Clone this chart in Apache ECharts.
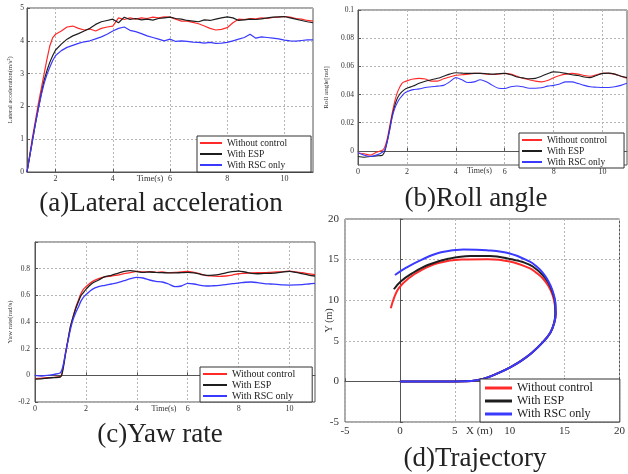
<!DOCTYPE html>
<html>
<head>
<meta charset="utf-8">
<script src="https://cdn.jsdelivr.net/npm/echarts@6/dist/echarts.min.js"></script>
<style>
  html, body { margin: 0; padding: 0; background: #fff; }
  #main { width: 628px; height: 474px; }
</style>
</head>
<body>
<div id="main"></div>
<script>
/* four vehicle-response panels: lateral accel, roll, yaw rate, trajectory */

const NAMES = ['Without control', 'With ESP', 'With RSC only'];
const COLORS = ['#ff2a2a', '#1e1e1e', '#3a3aff'];
const SERIF = '"Liberation Serif", "Times New Roman", serif';

// (a) lateral acceleration, time axis starts at 1 s
const TIME_A = [1, 1.1, 1.2, 1.3, 1.4, 1.5, 1.6, 1.7, 1.8, 1.9, 2,
  2.2, 2.4, 2.6, 2.8, 3, 3.2, 3.4, 3.6, 3.8, 4,
  4.2, 4.4, 4.6, 4.8, 5, 5.2, 5.4, 5.6, 5.8, 6,
  6.2, 6.4, 6.6, 6.8, 7, 7.2, 7.4, 7.6, 7.8, 8,
  8.2, 8.4, 8.6, 8.8, 9, 9.2, 9.4, 9.6, 9.8, 10,
  10.2, 10.4, 10.6, 10.8, 11];
const ACC_RED = [0, 0.55, 1.1, 1.6, 2.1, 2.55, 3.0, 3.45, 3.85, 4.1, 4.2,
  4.3, 4.42, 4.45, 4.38, 4.33, 4.36, 4.3, 4.38, 4.42, 4.45,
  4.7, 4.65, 4.7, 4.66, 4.7, 4.68, 4.72, 4.7, 4.73, 4.72,
  4.66, 4.6, 4.6, 4.56, 4.52, 4.45, 4.38, 4.33, 4.35, 4.4,
  4.55, 4.66, 4.65, 4.68, 4.67, 4.7, 4.68, 4.71, 4.72, 4.74,
  4.72, 4.68, 4.66, 4.62, 4.6];
const ACC_ESP = [0, 0.5, 1.0, 1.5, 1.95, 2.4, 2.8, 3.1, 3.35, 3.55, 3.72,
  3.9, 4.05, 4.15, 4.22, 4.3, 4.38, 4.5, 4.58, 4.62, 4.66,
  4.55, 4.72, 4.65, 4.68, 4.64, 4.66, 4.63, 4.68, 4.7, 4.72,
  4.68, 4.66, 4.62, 4.6, 4.58, 4.64, 4.62, 4.66, 4.7, 4.73,
  4.7, 4.62, 4.64, 4.66, 4.65, 4.67, 4.7, 4.72, 4.73, 4.74,
  4.7, 4.66, 4.62, 4.58, 4.55];
const ACC_RSC = [0, 0.5, 1.0, 1.5, 1.95, 2.35, 2.7, 2.98, 3.2, 3.4, 3.55,
  3.7, 3.8, 3.86, 3.92, 3.97, 4.0, 4.06, 4.12, 4.2, 4.3,
  4.38, 4.42, 4.32, 4.28, 4.22, 4.15, 4.1, 4.05, 4.0, 4.05,
  3.98, 4.0, 3.98, 3.96, 3.95, 3.93, 3.95, 3.92, 3.93, 3.95,
  4.0, 4.05, 4.1, 4.2, 4.08, 4.12, 4.1, 4.08, 4.06, 4.02,
  4.0, 3.99, 4.01, 4.03, 4.03];

// (b) roll angle and (c) yaw rate share one time base
const TIME_B = [0, 0.25, 0.5, 0.75, 1,
  1.1, 1.2, 1.3, 1.4, 1.5, 1.6, 1.7, 1.8, 1.9, 2,
  2.25, 2.5, 2.75, 3, 3.25, 3.5, 3.75, 4,
  4.25, 4.5, 4.75, 5, 5.25, 5.5, 5.75, 6,
  6.25, 6.5, 6.75, 7, 7.25, 7.5, 7.75, 8,
  8.25, 8.5, 8.75, 9, 9.25, 9.5, 9.75, 10,
  10.25, 10.5, 10.75, 11];
const ROLL_RED = [-0.0015, -0.002, -0.003, -0.001, 0.0005,
  0.003, 0.009, 0.018, 0.027, 0.035, 0.041, 0.045, 0.048, 0.049, 0.0497,
  0.051, 0.0515, 0.051, 0.0495, 0.0495, 0.0512, 0.0525, 0.0537,
  0.054, 0.0545, 0.055, 0.055, 0.0545, 0.0542, 0.0545, 0.055,
  0.0545, 0.053, 0.0515, 0.0505, 0.0495, 0.049, 0.05, 0.052,
  0.0535, 0.0545, 0.055, 0.0545, 0.0535, 0.053, 0.054, 0.055,
  0.055, 0.0545, 0.053, 0.0515];
const ROLL_ESP = [-0.004, -0.0045, -0.004, -0.0035, -0.003,
  0.0, 0.007, 0.016, 0.025, 0.032, 0.037, 0.04, 0.042, 0.0435, 0.0445,
  0.046, 0.048, 0.0495, 0.0505, 0.0515, 0.053, 0.0545, 0.0555,
  0.0552, 0.055, 0.055, 0.055, 0.0548, 0.0545, 0.0548, 0.055,
  0.054, 0.0525, 0.0518, 0.0512, 0.0515, 0.053, 0.0548, 0.0561,
  0.0558, 0.055, 0.054, 0.0535, 0.0525, 0.052, 0.0535, 0.055,
  0.0552, 0.0545, 0.053, 0.052];
const ROLL_RSC = [-0.0013, -0.003, -0.004, -0.003, -0.001,
  0.001, 0.007, 0.015, 0.024, 0.03, 0.034, 0.037, 0.039, 0.041, 0.042,
  0.0435, 0.044, 0.045, 0.0455, 0.046, 0.0465, 0.049, 0.052,
  0.0505, 0.0485, 0.049, 0.0505, 0.049, 0.0465, 0.0445, 0.0443,
  0.0455, 0.0461, 0.0455, 0.0445, 0.0445, 0.0448, 0.046, 0.0465,
  0.0475, 0.049, 0.049, 0.0478, 0.0465, 0.0455, 0.0452, 0.045,
  0.045, 0.0455, 0.0465, 0.048];
const YAW_RED = [-0.025, -0.022, -0.018, -0.015, -0.01,
  0.06, 0.17, 0.27, 0.37, 0.44, 0.51, 0.56, 0.61, 0.644, 0.665,
  0.703, 0.725, 0.738, 0.745, 0.752, 0.762, 0.77, 0.78,
  0.775, 0.778, 0.772, 0.775, 0.77, 0.772, 0.776, 0.78,
  0.772, 0.76, 0.748, 0.745, 0.742, 0.745, 0.752, 0.762,
  0.765, 0.768, 0.77, 0.77, 0.772, 0.775, 0.778, 0.782,
  0.775, 0.77, 0.762, 0.755];
const YAW_ESP = [-0.028, -0.027, -0.02, -0.017, -0.012,
  0.045, 0.16, 0.27, 0.37, 0.44, 0.5, 0.55, 0.595, 0.62, 0.645,
  0.69, 0.715, 0.74, 0.75, 0.765, 0.78, 0.786, 0.778,
  0.772, 0.775, 0.772, 0.77, 0.768, 0.768, 0.77, 0.772,
  0.768, 0.758, 0.75, 0.752, 0.758, 0.768, 0.778, 0.782,
  0.775, 0.765, 0.762, 0.764, 0.765, 0.768, 0.776, 0.78,
  0.772, 0.762, 0.752, 0.745];
const YAW_RSC = [0.0, -0.005, 0.0, 0.008, 0.02,
  0.07, 0.17, 0.26, 0.35, 0.42, 0.47, 0.51, 0.555, 0.585, 0.605,
  0.645, 0.665, 0.675, 0.685, 0.695, 0.71, 0.725, 0.735,
  0.73, 0.715, 0.705, 0.7, 0.685, 0.665, 0.67, 0.69,
  0.685, 0.675, 0.67, 0.672, 0.675, 0.68, 0.688, 0.692,
  0.698, 0.7, 0.695, 0.688, 0.685, 0.682, 0.678, 0.677,
  0.678, 0.68, 0.685, 0.69];

// (d) trajectory, X / Y in metres
const TRAJ_RED_X = [0, 2, 4, 5, 6, 7, 8, 9, 10, 11, 12, 13, 13.7, 14.05,
  14.2, 14.1, 13.9, 13.5, 13.0, 12.4, 11.8, 10, 8, 5.6, 3.5, 2.0, 0.8, -0.1, -0.54, -0.83];
const TRAJ_RED_Y = [0, 0, 0, 0, 0.02, 0.15, 0.5, 1.05, 1.7, 2.5, 3.5, 4.8, 6.0, 7.2,
  8.3, 9.5, 10.65, 11.8, 12.7, 13.4, 13.95, 14.77, 15.05, 15.0, 14.57, 13.74, 12.7, 11.48, 10.25, 9.0];
const TRAJ_ESP_X = [0, 2, 4, 5, 6, 7, 8, 9, 10, 11, 12, 13, 13.7, 14.05,
  14.15, 14.15, 13.9, 13.5, 13.0, 12.1, 11.2, 10.3, 8.2, 6.4, 4.4, 2.6, 1.1, 0.07, -0.55];
const TRAJ_ESP_Y = [0, 0, 0, 0, 0.02, 0.15, 0.5, 1.05, 1.7, 2.5, 3.5, 4.8, 6.0, 7.2,
  8.3, 9.5, 11.0, 12.2, 13.1, 14.15, 14.7, 15.0, 15.45, 15.45, 15.1, 14.36, 13.3, 12.3, 11.35];
const TRAJ_RSC_X = [0, 2, 4, 5, 6, 7, 8, 9, 10, 11, 12, 13, 13.7, 14.05,
  14.2, 14.15, 13.9, 13.5, 13.0, 12.4, 11.8, 10, 7.9, 5.8, 3.75, 2.0, 0.5, -0.45];
const TRAJ_RSC_Y = [0, 0, 0, 0, 0.02, 0.15, 0.5, 1.05, 1.7, 2.5, 3.5, 4.8, 6.0, 7.2,
  8.4, 9.8, 11.2, 12.4, 13.4, 14.2, 14.77, 15.75, 16.15, 16.25, 15.9, 15.0, 13.95, 13.1];

const zip = (xs, ys) => xs.map((x, i) => [x, ys[i]]);

const chart = echarts.init(document.getElementById('main'));

const GRIDS = [
  { left: 27, top: 8, width: 286, height: 164 },
  { left: 358, top: 10, width: 269, height: 155 },
  { left: 35, top: 242, width: 280, height: 160 },
  { left: 345, top: 219, width: 280, height: 203 }
];

function axis(gi, fs, extra) {
  return Object.assign({
    gridIndex: gi,
    type: 'value',
    axisLine: { show: true, lineStyle: { color: '#555' } },
    axisTick: { show: true, inside: true, length: 3, lineStyle: { color: '#555' } },
    axisLabel: { fontFamily: SERIF, fontSize: fs, color: '#333', margin: 3 },
    splitLine: { show: true, lineStyle: { color: '#b5b5b5', type: [2, 2] } },
    nameLocation: 'middle',
    nameMoveOverlap: false,
    nameTextStyle: { fontFamily: SERIF, fontSize: fs, color: '#333' }
  }, extra);
}

function lines(gi, data, width, smooth) {
  return data.map((d, k) => ({
    name: NAMES[k], type: 'line', xAxisIndex: gi, yAxisIndex: gi,
    data: d, showSymbol: false, symbol: 'none', smooth: smooth,
    lineStyle: { width: width, color: COLORS[k] }, itemStyle: { color: COLORS[k] },
    animation: false
  }));
}

function legend(left, top, fs, lh, iw, ih, gap, pad) {
  return {
    data: NAMES, orient: 'vertical', left: left, top: top,
    icon: 'rect', itemWidth: iw, itemHeight: ih, itemGap: gap,
    textStyle: { fontFamily: SERIF, fontSize: fs, color: '#222', lineHeight: lh },
    backgroundColor: '#fff', borderColor: '#333', borderWidth: 1, borderRadius: 0,
    padding: pad, selectedMode: false
  };
}

function title(text, cx, top) {
  return {
    text: text, left: cx, top: top, textAlign: 'center', padding: 0,
    textStyle: { fontFamily: SERIF, fontSize: 27, fontWeight: 'normal', color: '#222' }
  };
}

const EVEN = [2, 4, 6, 8, 10];
const tick = (vals) => ({ show: true, inside: true, length: 3, customValues: vals, lineStyle: { color: '#555' } });
const lab = (vals, fs, m) => ({ fontFamily: SERIF, fontSize: fs, color: '#333', margin: m, customValues: vals });
const nts = (fs, padRight) => ({ fontFamily: SERIF, fontSize: fs, color: '#333', padding: [0, padRight, 0, 0] });

chart.setOption({
  backgroundColor: '#fff',
  animation: false,
  title: [
    title('(a)Lateral acceleration', 161, 190),
    title('(b)Roll angle', 476, 185),
    title('(c)Yaw rate', 160, 421),
    title('(d)Trajectory', 475, 445)
  ],
  grid: GRIDS.map((g) => Object.assign({ show: true, borderColor: '#555', borderWidth: 1, backgroundColor: '#fff' }, g)),
  xAxis: [
    axis(0, 8, { min: 1, max: 11, axisTick: tick(EVEN), axisLabel: lab(EVEN, 8, 3),
      name: 'Time(s)', nameGap: 2, nameTextStyle: nts(8.5, 40) }),
    axis(1, 8, { min: 0, max: 11, axisTick: tick([0].concat(EVEN)), axisLabel: lab([0].concat(EVEN), 8, 3),
      name: 'Time(s)', nameGap: 2, nameTextStyle: nts(8, 26) }),
    axis(2, 8, { min: 0, max: 11, axisTick: tick([0].concat(EVEN)), axisLabel: lab([0].concat(EVEN), 8, 3),
      name: 'Time(s)', nameGap: 3, nameTextStyle: nts(8, 22) }),
    axis(3, 11, { min: -5, max: 20, interval: 5, name: 'X (m)', nameGap: 4,
      axisLabel: { fontFamily: SERIF, fontSize: 11, color: '#333', margin: 4 },
      nameTextStyle: nts(11, 6) })
  ],
  yAxis: [
    axis(0, 7.5, { min: 0, max: 5, interval: 1, name: 'Lateral acceleration(m/s²)', nameGap: 13,
      nameTextStyle: { fontFamily: SERIF, fontSize: 6.5, color: '#333' } }),
    axis(1, 7.5, { min: -0.01, max: 0.1,
      axisTick: tick([0, 0.02, 0.04, 0.06, 0.08, 0.1]),
      axisLabel: lab([0, 0.02, 0.04, 0.06, 0.08, 0.1], 7.5, 4),
      name: 'Roll angle[rad]', nameGap: 28, nameTextStyle: { fontFamily: SERIF, fontSize: 7, color: '#333' } }),
    axis(2, 7.5, { min: -0.2, max: 1,
      axisTick: tick([-0.2, 0, 0.2, 0.4, 0.6, 0.8, 1]),
      axisLabel: lab([-0.2, 0, 0.2, 0.4, 0.6, 0.8], 7.5, 5),
      name: 'Yaw rate(rad/s)', nameGap: 21, nameTextStyle: { fontFamily: SERIF, fontSize: 7, color: '#333' } }),
    axis(3, 11, { min: -5, max: 20, interval: 5, name: 'Y (m)', nameGap: 11,
      axisLabel: { fontFamily: SERIF, fontSize: 11, color: '#333', margin: 6 },
      nameTextStyle: { fontFamily: SERIF, fontSize: 10, color: '#333' } })
  ],
  legend: [
    legend(197, 136, 9.5, 8.5, 22, 2, 1, [2, 24, 2, 3]),
    legend(519, 133, 9.5, 8, 20, 2, 1, [2, 17, 1, 3]),
    legend(200, 367, 10, 8, 24, 2, 1, [2, 17, 1, 3]),
    legend(480, 379, 12, 10.5, 27, 3, 1, [3, 27, 2, 5])
  ],
  series: [].concat(
    lines(0, [zip(TIME_A, ACC_RED), zip(TIME_A, ACC_ESP), zip(TIME_A, ACC_RSC)], 1.2, false),
    lines(1, [zip(TIME_B, ROLL_RED), zip(TIME_B, ROLL_ESP), zip(TIME_B, ROLL_RSC)], 1.1, 0.3),
    lines(2, [zip(TIME_B, YAW_RED), zip(TIME_B, YAW_ESP), zip(TIME_B, YAW_RSC)], 1.3, 0.3),
    lines(3, [zip(TRAJ_RED_X, TRAJ_RED_Y), zip(TRAJ_ESP_X, TRAJ_ESP_Y), zip(TRAJ_RSC_X, TRAJ_RSC_Y)], 2, 0.4)
  )
});
</script>
</body>
</html>
